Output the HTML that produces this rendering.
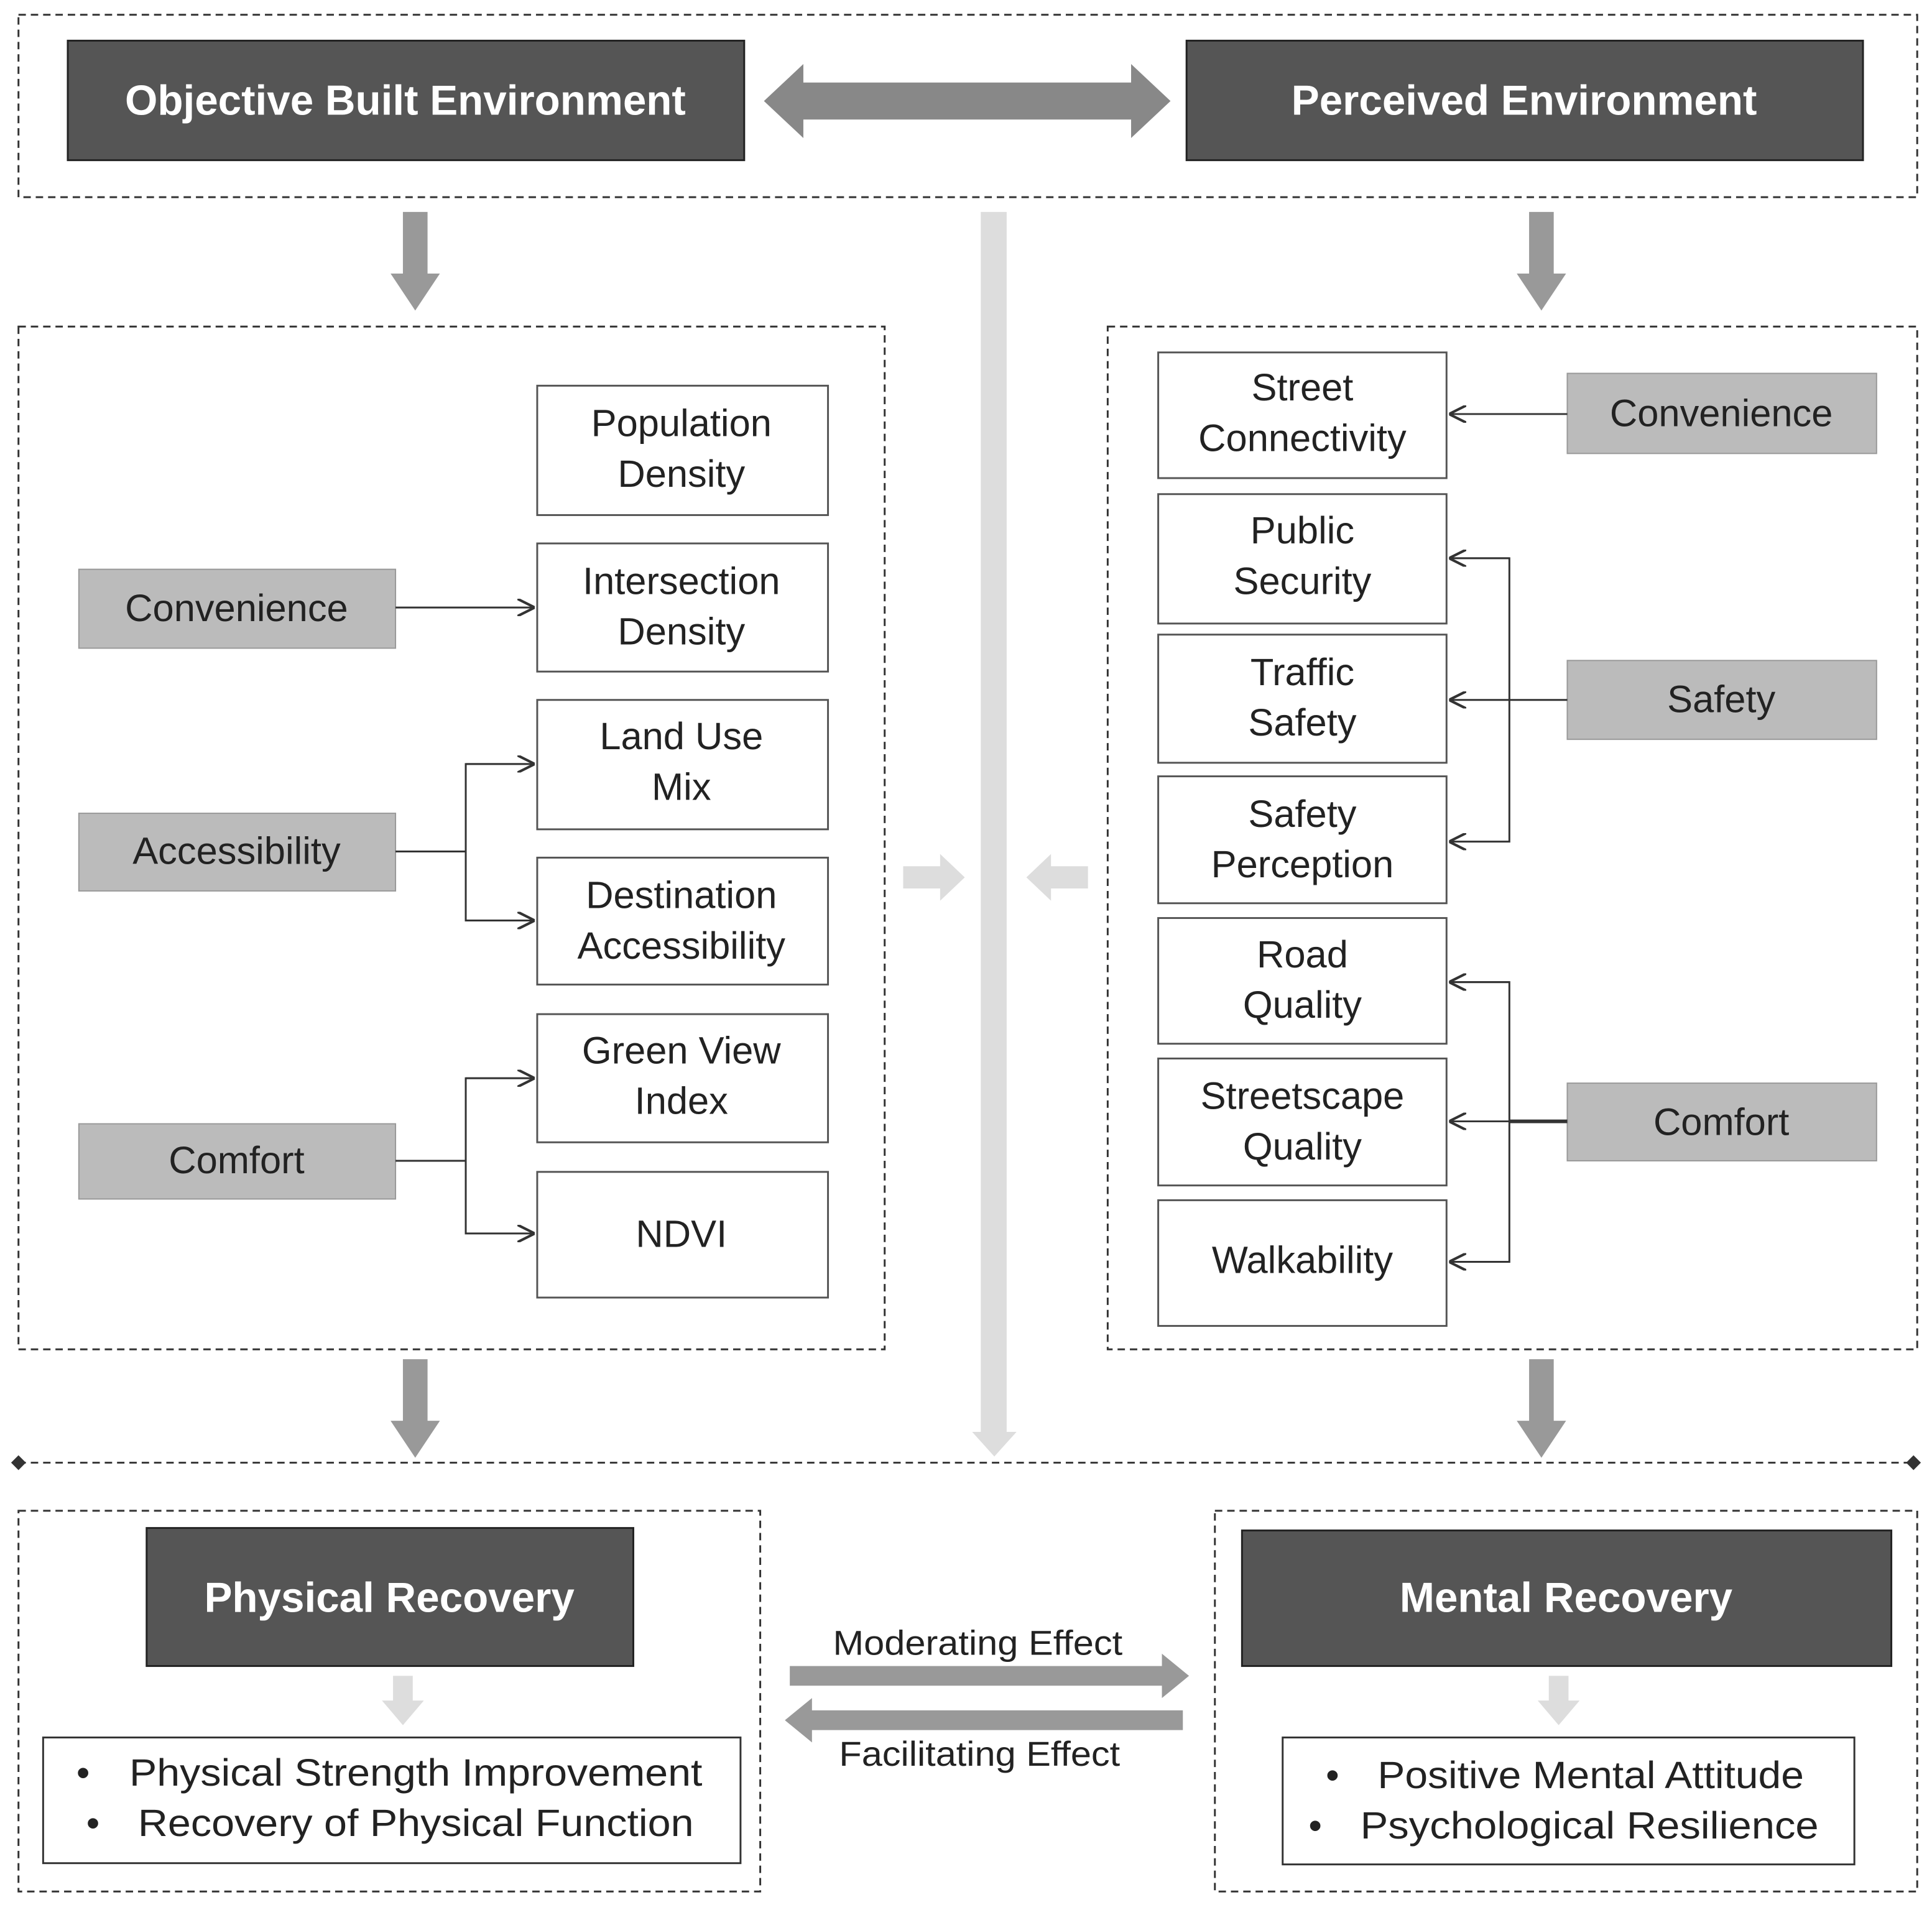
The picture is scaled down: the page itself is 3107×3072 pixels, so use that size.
<!DOCTYPE html>
<html><head><meta charset="utf-8"><style>
html,body{margin:0;padding:0;background:#fff;}
svg{display:block;}
text{font-family:"Liberation Sans",Arial,sans-serif;}
</style></head><body>
<svg width="3107" height="3072" viewBox="0 0 1568 1550" preserveAspectRatio="none" xmlns="http://www.w3.org/2000/svg">
<defs>
<marker id="ar" viewBox="0 0 10 10" refX="10" refY="5" markerWidth="14" markerHeight="14" markerUnits="userSpaceOnUse" orient="auto">
<path d="M0,0 L10,5 L0,10" fill="none" stroke="#333" stroke-width="1.5"/></marker>
</defs>
<rect width="1568" height="1550" fill="#fff"/>
<g fill="none" stroke="#333" stroke-width="1.5" stroke-dasharray="6,4">
<rect x="15" y="12" width="1541" height="148"/>
<rect x="15" y="265" width="703" height="830"/>
<rect x="899" y="265" width="657" height="830"/>
<rect x="15" y="1226" width="602" height="309"/>
<rect x="986" y="1226" width="570" height="309"/>
<line x1="15" y1="1187" x2="1556" y2="1187"/>
</g>
<path d="M15,1181 L21,1187 L15,1193 L9,1187Z M1553,1181 L1559,1187 L1553,1193 L1547,1187Z" fill="#333"/>
<rect x="55" y="33" width="549" height="97" fill="#555" stroke="#222" stroke-width="1.5"/>
<text x="329" y="93" font-size="34" font-weight="bold" fill="#fff" text-anchor="middle">Objective Built Environment</text>
<rect x="963" y="33" width="549" height="97" fill="#555" stroke="#222" stroke-width="1.5"/>
<text x="1237" y="93" font-size="34" font-weight="bold" fill="#fff" text-anchor="middle">Perceived Environment</text>
<path d="M620,82 L652,52 L652,67 L918,67 L918,52 L950,82 L918,112 L918,97 L652,97 L652,112Z" fill="#888"/>
<g fill="#999">
<path d="M327,172 h20 v50 h10 l-20,30 l-20,-30 h10z"/>
<path d="M1241,172 h20 v50 h10 l-20,30 l-20,-30 h10z"/>
<path d="M327,1103 h20 v50 h10 l-20,30 l-20,-30 h10z"/>
<path d="M1241,1103 h20 v50 h10 l-20,30 l-20,-30 h10z"/>
</g>
<path d="M796,172 h21 v990 h8 l-18,20 l-18,-20 h7z" fill="#ddd"/>
<path d="M733,703 h30 v-10 l20,19 l-20,19 v-10 h-30z" fill="#ddd"/>
<path d="M883,703 h-30 v-10 l-20,19 l20,19 v-10 h30z" fill="#ddd"/>
<g fill="#fff" stroke="#555" stroke-width="1.5">
<rect x="436" y="313" width="236" height="105"/>
<rect x="436" y="441" width="236" height="104"/>
<rect x="436" y="568" width="236" height="105"/>
<rect x="436" y="696" width="236" height="103"/>
<rect x="436" y="823" width="236" height="104"/>
<rect x="436" y="951" width="236" height="102"/>
<rect x="940" y="286" width="234" height="102"/>
<rect x="940" y="401" width="234" height="105"/>
<rect x="940" y="515" width="234" height="104"/>
<rect x="940" y="630" width="234" height="103"/>
<rect x="940" y="745" width="234" height="102"/>
<rect x="940" y="859" width="234" height="103"/>
<rect x="940" y="974" width="234" height="102"/>
</g>
<g fill="#bbb" stroke="#999" stroke-width="1">
<rect x="64" y="462" width="257" height="64"/>
<rect x="64" y="660" width="257" height="63"/>
<rect x="64" y="912" width="257" height="61"/>
<rect x="1272" y="303" width="251" height="65"/>
<rect x="1272" y="536" width="251" height="64"/>
<rect x="1272" y="879" width="251" height="63"/>
</g>
<g font-size="31" fill="#222" text-anchor="middle">
<text x="553" y="354">Population</text><text x="553" y="395">Density</text>
<text x="553" y="482">Intersection</text><text x="553" y="523">Density</text>
<text x="553" y="608">Land Use</text><text x="553" y="649">Mix</text>
<text x="553" y="737">Destination</text><text x="553" y="778">Accessibility</text>
<text x="553" y="863">Green View</text><text x="553" y="904">Index</text>
<text x="553" y="1012">NDVI</text>
<text x="1057" y="325">Street</text><text x="1057" y="366">Connectivity</text>
<text x="1057" y="441">Public</text><text x="1057" y="482">Security</text>
<text x="1057" y="556">Traffic</text><text x="1057" y="597">Safety</text>
<text x="1057" y="671">Safety</text><text x="1057" y="712">Perception</text>
<text x="1057" y="785">Road</text><text x="1057" y="826">Quality</text>
<text x="1057" y="900">Streetscape</text><text x="1057" y="941">Quality</text>
<text x="1057" y="1033">Walkability</text>
<text x="192" y="504">Convenience</text>
<text x="192" y="701">Accessibility</text>
<text x="192" y="952">Comfort</text>
<text x="1397" y="346">Convenience</text>
<text x="1397" y="578">Safety</text>
<text x="1397" y="921">Comfort</text>
</g>
<g stroke="#333" stroke-width="1.5" fill="none">
<line x1="321" y1="493" x2="434" y2="493" marker-end="url(#ar)"/>
<line x1="321" y1="691" x2="378" y2="691"/>
<path d="M434,620 H378 V747 H434" marker-end="url(#ar)"/>
<line x1="378" y1="620" x2="434" y2="620" marker-end="url(#ar)"/>
<line x1="321" y1="942" x2="378" y2="942"/>
<path d="M434,875 H378 V1001 H434" marker-end="url(#ar)"/>
<line x1="378" y1="875" x2="434" y2="875" marker-end="url(#ar)"/>
<line x1="1272" y1="336" x2="1176" y2="336" marker-end="url(#ar)"/>
<line x1="1272" y1="568" x2="1225" y2="568"/>
<path d="M1176,453 H1225 V683 H1176" marker-end="url(#ar)"/>
<line x1="1225" y1="453" x2="1176" y2="453" marker-end="url(#ar)"/>
<line x1="1225" y1="568" x2="1176" y2="568" marker-end="url(#ar)"/>
<line x1="1272" y1="910" x2="1225" y2="910" stroke-width="3"/>
<path d="M1176,797 H1225 V1024 H1176" marker-end="url(#ar)"/>
<line x1="1225" y1="797" x2="1176" y2="797" marker-end="url(#ar)"/>
<line x1="1225" y1="910" x2="1176" y2="910" marker-end="url(#ar)"/>
</g>
<rect x="119" y="1240" width="395" height="112" fill="#555" stroke="#222" stroke-width="1.5"/>
<text x="316" y="1308" font-size="34" font-weight="bold" fill="#fff" text-anchor="middle">Physical Recovery</text>
<rect x="1008" y="1242" width="527" height="110" fill="#555" stroke="#222" stroke-width="1.5"/>
<text x="1271" y="1308" font-size="34" font-weight="bold" fill="#fff" text-anchor="middle">Mental Recovery</text>
<path d="M319,1360 h16 v20 h9 l-17,20 l-17,-20 h9z" fill="#ddd"/>
<path d="M1257,1360 h16 v20 h9 l-17,20 l-17,-20 h9z" fill="#ddd"/>
<rect x="35" y="1410" width="566" height="102" fill="#fff" stroke="#333" stroke-width="1.5"/>
<rect x="1041" y="1410" width="464" height="103" fill="#fff" stroke="#333" stroke-width="1.5"/>
<g font-size="31" fill="#222">
<text x="62" y="1449">•</text><text x="105" y="1449" textLength="465" lengthAdjust="spacingAndGlyphs">Physical Strength Improvement</text>
<text x="70" y="1490">•</text><text x="112" y="1490" textLength="451" lengthAdjust="spacingAndGlyphs">Recovery of Physical Function</text>
<text x="1076" y="1451">•</text><text x="1118" y="1451" textLength="346" lengthAdjust="spacingAndGlyphs">Positive Mental Attitude</text>
<text x="1062" y="1492">•</text><text x="1104" y="1492" textLength="372" lengthAdjust="spacingAndGlyphs">Psychological Resilience</text>
</g>
<path d="M641,1352 h302 v-10 l22,18 l-22,18 v-10 h-302z" fill="#999"/>
<path d="M960,1388 h-301 v-10 l-22,18 l22,18 v-10 h301z" fill="#999"/>
<g font-size="28" fill="#222">
<text x="676" y="1343" textLength="235" lengthAdjust="spacingAndGlyphs">Moderating Effect</text>
<text x="681" y="1433" textLength="228" lengthAdjust="spacingAndGlyphs">Facilitating Effect</text>
</g>
</svg>
</body></html>
